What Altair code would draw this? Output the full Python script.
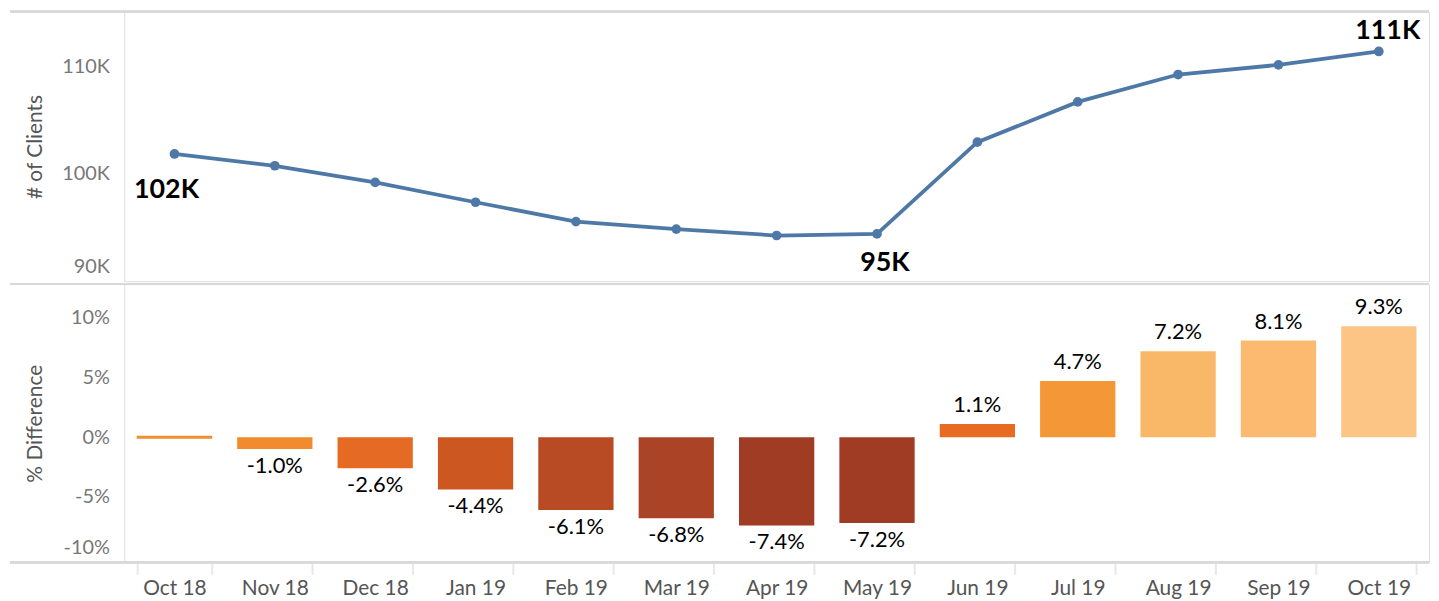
import altair as alt
import pandas as pd

months = ["Oct 18", "Nov 18", "Dec 18", "Jan 19", "Feb 19", "Mar 19", "Apr 19",
          "May 19", "Jun 19", "Jul 19", "Aug 19", "Sep 19", "Oct 19"]
clients = [101850, 100750, 99200, 97350, 95550, 94850, 94250,
           94400, 102950, 106700, 109250, 110150, 111400]
pct_diff = [0.0, -1.0, -2.6, -4.4, -6.1, -6.8, -7.4, -7.2, 1.1, 4.7, 7.2, 8.1, 9.3]
pct_labels = ["", "-1.0%", "-2.6%", "-4.4%", "-6.1%", "-6.8%", "-7.4%", "-7.2%",
              "1.1%", "4.7%", "7.2%", "8.1%", "9.3%"]
client_labels = ["102K", "", "", "", "", "", "", "95K", "", "", "", "", "111K"]
bar_colors = ["#F28E2B", "#F28A2E", "#E56A23", "#CD5721", "#B84B23", "#AB4426", "#A03B24",
              "#A03B24", "#E86B22", "#F49736", "#F9B768", "#FBBA6F", "#FDC585"]

df = pd.DataFrame({"month": months, "clients": clients, "pct": pct_diff,
                   "pct_label": pct_labels, "client_label": client_labels})

W = 1313
H_TOP = 271
H_BOT = 280
LEFT = 115
FONT = "Lato"
LINE = "#d9d9d9"

base = alt.Chart(df)
xs = alt.Scale(paddingInner=0.25, paddingOuter=0.125)

# ---------- top panel ----------
y_top = alt.Y("clients:Q", title="# of Clients",
              scale=alt.Scale(domain=[90000, 115090], nice=False, zero=False),
              axis=alt.Axis(values=[90000, 100000, 110000],
                            labelExpr="datum.value / 1000 + 'K'",
                            grid=False, ticks=False, domain=False,
                            labelFont=FONT, labelFontSize=20, labelColor="#777777",
                            labelPadding=15, minExtent=66, maxExtent=66,
                            titleFont=FONT, titleFontSize=21, titleFontWeight="normal",
                            titleColor="#555555", titlePadding=13,
                            labelOffset={"condition": {"test": "datum.value === 90000", "value": -15},
                                         "value": 0}))

line = base.mark_line(color="#4E79A7", strokeWidth=3.8,
                      point=alt.OverlayMarkDef(color="#4E79A7", size=95, filled=True, opacity=1)).encode(
    x=alt.X("month:N", sort=months, axis=None, scale=xs),
    y=y_top)

def top_label(month, dx, dy):
    return base.transform_filter(alt.datum.month == month).mark_text(
        font=FONT, fontSize=27, fontWeight="bold", color="#000000",
        dx=dx, dy=dy, baseline="middle", align="center").encode(
        x=alt.X("month:N", sort=months, axis=None),
        y=alt.Y("clients:Q"),
        text="client_label:N")

lab1 = top_label("Oct 18", -8, 36)
lab2 = top_label("May 19", 8, 29)
lab3 = top_label("Oct 19", 9, -21)

rule_top0 = base.mark_rule(color=LINE, strokeWidth=2).encode(
    x=alt.value(-LEFT), x2=alt.value(W), y=alt.value(0))

top = alt.layer(line, lab1, lab2, lab3, rule_top0).properties(width=W, height=H_TOP)

# ---------- bottom panel ----------
y_bot = alt.Y("pct:Q", title="% Difference",
              scale=alt.Scale(domain=[-10.5, 12.83], nice=False, zero=False),
              axis=alt.Axis(values=[-10, -5, 0, 5, 10],
                            labelExpr="datum.value + '%'",
                            grid=False, ticks=False, domain=False,
                            labelFont=FONT, labelFontSize=20, labelColor="#777777",
                            labelPadding=15, minExtent=66, maxExtent=66,
                            titleFont=FONT, titleFontSize=21, titleFontWeight="normal",
                            titleColor="#555555", titlePadding=13,
                            labelOffset={"condition": {"test": "datum.value === -10", "value": -9},
                                         "value": 0}))

x_bot = alt.X("month:N", sort=months, title=None, scale=xs,
              axis=alt.Axis(labelAngle=0, labelFont=FONT, labelFontSize=21,
                            labelColor="#555555", domain=False,
                            ticks=True, tickBand="extent", tickColor="#e8e8e8",
                            tickSize=12, tickWidth=2, labelPadding=3))

bars = base.mark_bar().encode(
    x=x_bot,
    y=y_bot,
    y2=alt.datum(0),
    color=alt.Color("month:N", sort=months,
                    scale=alt.Scale(domain=months, range=bar_colors), legend=None))

zero_tick = base.transform_filter(alt.datum.pct == 0).mark_tick(
    thickness=3, color="#F28E2B", size=76, opacity=1).encode(
    x=alt.X("month:N", sort=months), y=alt.Y("pct:Q"))

neg_text = base.transform_filter(alt.datum.pct < 0).mark_text(
    font=FONT, fontSize=22, color="#000000", baseline="top", dy=7).encode(
    x=alt.X("month:N", sort=months), y=alt.Y("pct:Q"), text="pct_label:N")

pos_text = base.transform_filter(alt.datum.pct > 0).mark_text(
    font=FONT, fontSize=22, color="#000000", baseline="bottom", dy=-7).encode(
    x=alt.X("month:N", sort=months), y=alt.Y("pct:Q"), text="pct_label:N")

rule_mid = base.mark_rule(color=LINE, strokeWidth=2).encode(
    x=alt.value(-LEFT), x2=alt.value(W), y=alt.value(0))
rule_bot = base.mark_rule(color=LINE, strokeWidth=2).encode(
    x=alt.value(-LEFT), x2=alt.value(W), y=alt.value(H_BOT))

bottom = alt.layer(bars, zero_tick, neg_text, pos_text, rule_mid, rule_bot).properties(
    width=W, height=H_BOT)

chart = alt.vconcat(top, bottom, spacing=0).resolve_scale(x="shared").properties(
    padding={"left": 0, "top": 0, "right": 0, "bottom": 0}
).configure_view(stroke=LINE, strokeWidth=2).configure(background="white")

chart.save("out.html", embed_options={"renderer": "svg", "actions": False})
